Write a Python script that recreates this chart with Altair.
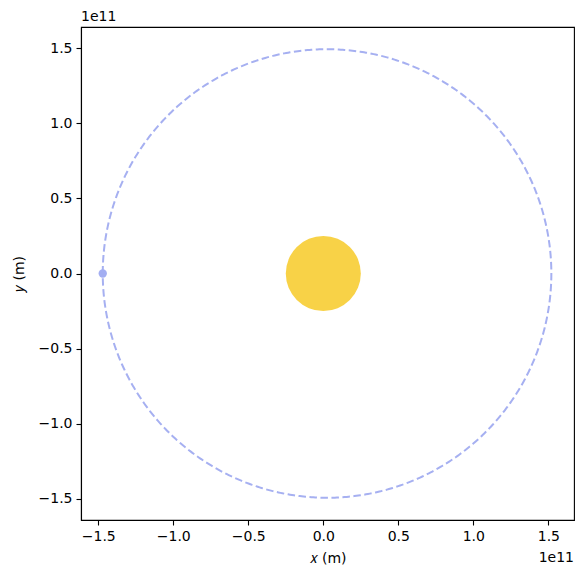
import numpy as np
import pandas as pd
import altair as alt

# Orbital elements of the planet (metres)
perihelion = 1.47e11
aphelion = 1.52e11
sun_radius_axis = 0.25e11  # drawn size of the sun disc in axis units

# Planet position at the start (perihelion, on the -x side)
planet_x = [-1.47e11]
planet_y = [0.0]

# Sun at the focus
sun_x = [0.0]
sun_y = [0.0]

tick_values = [-1.5e11, -1.0e11, -0.5e11, 0.0, 0.5e11, 1.0e11, 1.5e11]

a = (perihelion + aphelion) / 2
e = (aphelion - perihelion) / (aphelion + perihelion)
b = a * np.sqrt(1 - e ** 2)
c = a * e
theta = np.linspace(0, 2 * np.pi, 721)
orbit = pd.DataFrame({
    "x": c - a * np.cos(theta),
    "y": b * np.sin(theta),
    "i": np.arange(len(theta)),
})
planet = pd.DataFrame({"x": planet_x, "y": planet_y})
sun = pd.DataFrame({"x": sun_x, "y": sun_y})

W = H = 493
x_dom = [-1.615e11, 1.671e11]
y_dom = [-1.643e11, 1.643e11]
px_per_unit = W / (x_dom[1] - x_dom[0])
sun_diam_px = 2 * sun_radius_axis * px_per_unit
sun_size = sun_diam_px ** 2  # Vega circle symbol: diameter = sqrt(size)

FONT = "DejaVu Sans"
label_expr = "replace(format(datum.value / 1e11, '.1f'), '-', '\u2212')"

xenc = alt.X("x:Q", scale=alt.Scale(domain=x_dom, nice=False, zero=False),
             axis=alt.Axis(values=tick_values, labelExpr=label_expr, grid=False,
                           title="\U0001D465 (m)", titlePadding=8, labelPadding=4,
                           tickSize=5, labelFlush=False))
yenc = alt.Y("y:Q", scale=alt.Scale(domain=y_dom, nice=False, zero=False),
             axis=alt.Axis(values=tick_values, labelExpr=label_expr, grid=False,
                           title="\U0001D466 (m)", titlePadding=12, labelPadding=4,
                           tickSize=5, labelFlush=False))

orbit_line = alt.Chart(orbit).mark_line(
    color="#A6B0F1", strokeWidth=2, strokeDash=[7.5, 3.5], clip=True
).encode(x=xenc, y=yenc, order="i:Q")

sun_mark = alt.Chart(sun).mark_point(
    shape="circle", filled=True, color="#F8D247", opacity=1, size=sun_size
).encode(x="x:Q", y="y:Q")

planet_mark = alt.Chart(planet).mark_point(
    shape="circle", filled=True, color="#A3AEF2", opacity=1, size=70
).encode(x="x:Q", y="y:Q")

offset_top = alt.Chart(pd.DataFrame({"t": ["1e11"]})).mark_text(
    align="left", baseline="bottom", font=FONT, fontSize=14, color="black"
).encode(x=alt.value(0), y=alt.value(-3), text="t:N")

offset_bottom = alt.Chart(pd.DataFrame({"t": ["1e11"]})).mark_text(
    align="right", baseline="top", font=FONT, fontSize=14, color="black"
).encode(x=alt.value(W), y=alt.value(H + 31), text="t:N")

chart = alt.layer(orbit_line, sun_mark, planet_mark, offset_top, offset_bottom).properties(
    width=W, height=H,
    autosize=alt.AutoSizeParams(type="none"),
    padding={"left": 81, "top": 27, "right": 3, "bottom": 49},
    background="white",
).configure_view(
    stroke="black", strokeWidth=1.1
).configure_axis(
    labelFont=FONT, titleFont=FONT, labelFontSize=14, titleFontSize=14,
    titleFontWeight="normal", labelColor="black", titleColor="black",
    tickColor="black", domainColor="black", domainWidth=1.1, tickWidth=1.1,
)

chart.save("out.html", embed_options={"renderer": "svg", "actions": False})
